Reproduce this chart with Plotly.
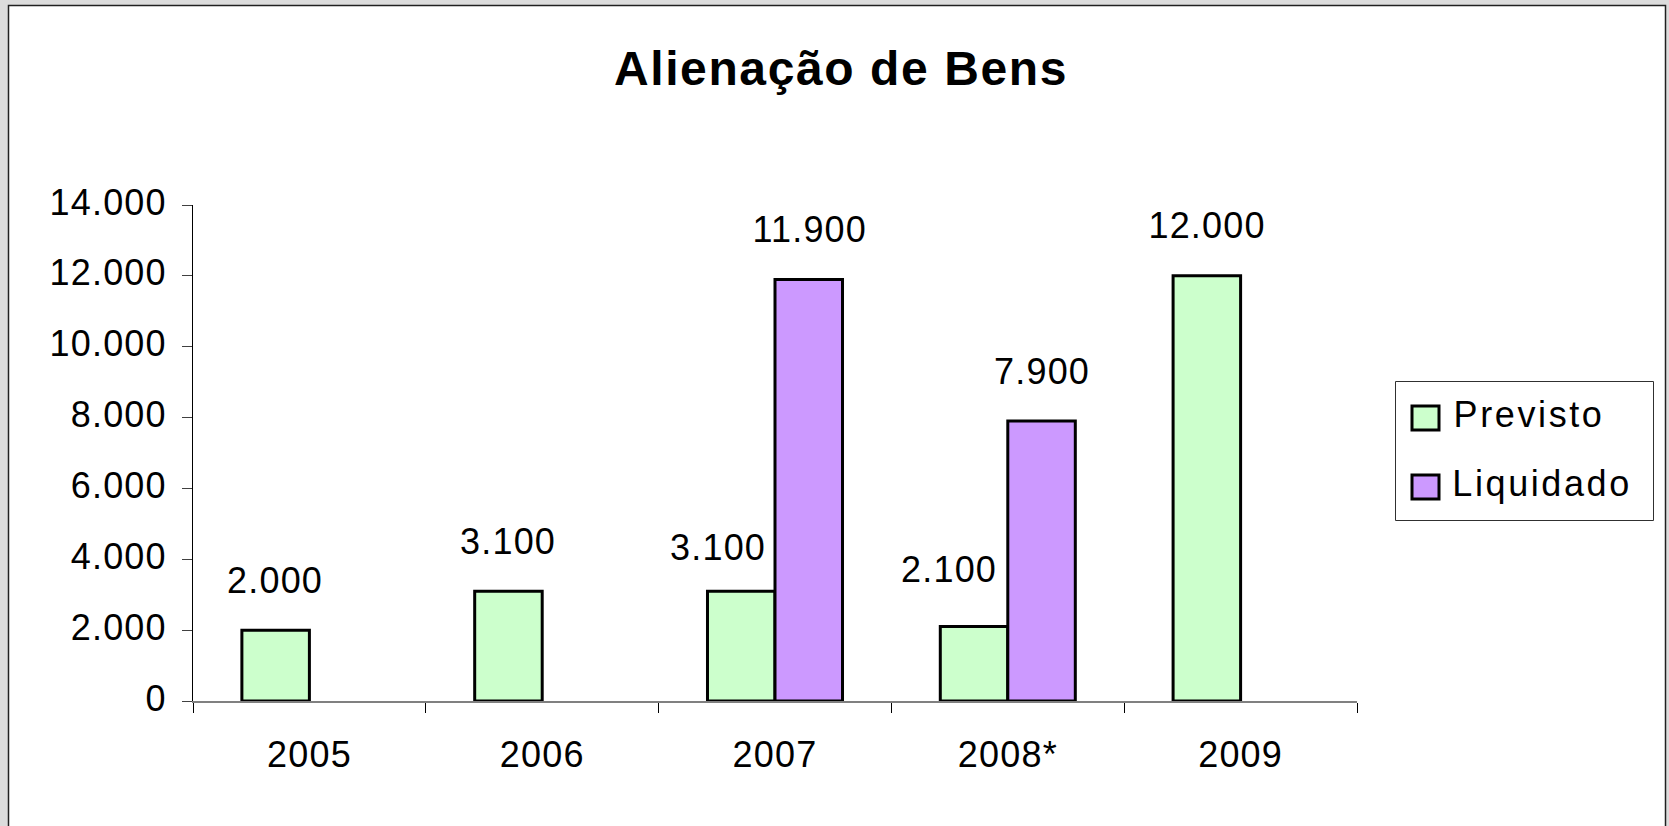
import plotly.graph_objects as go

years = ['2005', '2006', '2007', '2008*', '2009']
previsto = [2000, 3100, 3100, 2100, 12000]
liquidado = [None, None, 11900, 7900, None]
series_names = ['Previsto', 'Liquidado']
series_colors = ['#CCFFCC', '#CC99FF']
y_ticks = [0, 2000, 4000, 6000, 8000, 10000, 12000, 14000]

W, H = 1669, 826
# plot area in pixels
L, R, T, B = 193, 1357, 205, 701
FONT = 'Liberation Sans, Arial, sans-serif'


def px_x(px):
    return (px - L) / (R - L)


def px_y(py):
    return (B - py) / (B - T)


def fmt(v):
    return f'{v:,.0f}'.replace(',', '.')


fig = go.Figure()
for name, vals, color in zip(series_names, [previsto, liquidado], series_colors):
    fig.add_trace(go.Bar(
        x=years, y=vals, name=name,
        marker=dict(color=color, line=dict(color='black', width=3)),
        showlegend=False,
    ))

# value labels above the bars (a few are nudged left like in the original)
# x is the category index: year strings would be read as numbers
nudge = {('Previsto', '2007'): (-23, -6), ('Previsto', '2008*'): (-25, 7)}
half = 34
for k, (name, vals) in enumerate(zip(series_names, [previsto, liquidado])):
    side = -half if k == 0 else half
    for i, (yr, v) in enumerate(zip(years, vals)):
        if v is None:
            continue
        dx, dy = nudge.get((name, yr), (0, 0))
        fig.add_annotation(
            x=i, y=v, xref='x', yref='y', text=fmt(v), showarrow=False,
            xshift=side + dx, yshift=50 + dy, yanchor='middle',
            font=dict(size=36, color='black', family=FONT),
        )

# white frame on the grey page
fig.add_shape(type='rect', xref='paper', yref='paper', layer='below',
              x0=px_x(8.5), x1=px_x(1665.5), y0=px_y(840), y1=px_y(5.5),
              fillcolor='white', line=dict(color='#202020', width=1.5))

# legend box
fig.add_shape(type='rect', xref='paper', yref='paper',
              x0=px_x(1395.5), x1=px_x(1653.5), y0=px_y(520.5), y1=px_y(381.5),
              fillcolor='white', line=dict(color='#303030', width=1))
for i, (name, color) in enumerate(zip(series_names, series_colors)):
    cy = 418 + i * 69
    fig.add_shape(type='rect', xref='paper', yref='paper',
                  x0=px_x(1412), x1=px_x(1439), y0=px_y(cy + 12), y1=px_y(cy - 12),
                  fillcolor=color, line=dict(color='black', width=3))
    fig.add_annotation(x=px_x(1462), y=px_y(cy - 4), xref='paper', yref='paper',
                       text=name, showarrow=False, xanchor='left', yanchor='middle',
                       font=dict(size=36, color='black', family=FONT))

fig.update_layout(
    width=W, height=H,
    margin=dict(l=L, r=W - R, t=T, b=H - B, pad=0),
    paper_bgcolor='#dcdcdc',
    plot_bgcolor='white',
    barmode='group',
    bargap=0.42,
    bargroupgap=0,
    separators=',.',
    font=dict(family=FONT, color='black', size=36),
    title=dict(text='<b>Alienação de Bens</b>', x=841 / W, xref='container',
               xanchor='center', y=1 - 68 / H, yref='container', yanchor='middle',
               font=dict(size=48, color='black', family=FONT)),
)

fig.update_xaxes(
    type='category', tickangle=0, range=[-0.5, len(years) - 0.5],
    showline=True, linecolor='#808080', linewidth=2,
    ticks='outside', tickson='boundaries', ticklen=10, tickcolor='black', tickwidth=1,
    tickfont=dict(size=36), ticklabelstandoff=21,
    showgrid=False, zeroline=False,
)
fig.update_yaxes(
    range=[0, 14000], tickvals=y_ticks, tickformat=',d',
    showline=True, linecolor='black', linewidth=1,
    ticks='outside', ticklen=10, tickcolor='#404040', tickwidth=1,
    tickfont=dict(size=36), ticklabelstandoff=8, ticklabelshift=-3,
    showgrid=False, zeroline=False,
)

# the original text is set a little loose; widen the letter spacing to match
loose = """
var gd = document.getElementsByClassName('plotly-graph-div')[0];
gd.querySelectorAll('text').forEach(function(t){ t.style.letterSpacing = '1.2px'; });
gd.querySelectorAll('.gtitle').forEach(function(t){ t.style.letterSpacing = '1.6px'; });
gd.querySelectorAll('.annotation-text').forEach(function(t){
    if (/[A-Za-z]/.test(t.textContent)) { t.style.letterSpacing = '2.6px'; }
});
"""

fig.write_html('out.html', config={'displayModeBar': False},
               post_script="document.body.style.margin='0';" + loose)
